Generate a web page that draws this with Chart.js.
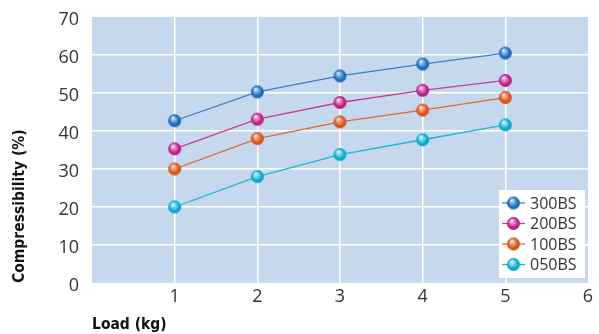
<!DOCTYPE html>
<html>
<head>
<meta charset="utf-8">
<script src="https://cdn.jsdelivr.net/npm/chart.js@4.4.0/dist/chart.umd.min.js"></script>
<style>
  html, body { margin: 0; padding: 0; background: #fff; }
  #wrap { width: 599px; height: 334px; position: relative; }
</style>
</head>
<body>
<div id="wrap"><canvas id="chart" width="599" height="334"></canvas></div>
<script>
const loads = [1, 2, 3, 4, 5];
const s300 = [42.7, 50.3, 54.5, 57.6, 60.5];
const s200 = [35.3, 43.1, 47.5, 50.7, 53.3];
const s100 = [30.0, 38.0, 42.4, 45.5, 48.8];
const s050 = [20.0, 28.0, 33.8, 37.7, 41.6];
const seriesNames = ["300BS", "200BS", "100BS", "050BS"];
const yTicks = [0, 10, 20, 30, 40, 50, 60, 70];
const xTicks = [0, 1, 2, 3, 4, 5, 6];

const colors = {
  "300BS": { line: "#3b7dc2", base: "#1f68b5", light: "#7fb3e6" },
  "200BS": { line: "#c93a93", base: "#b81e86", light: "#e98cc6" },
  "100BS": { line: "#e2672e", base: "#d9511b", light: "#f4a27a" },
  "050BS": { line: "#1cb5d3", base: "#06a9cc", light: "#7fdcef" },
};

// shaded ball marker
function ball(c, r) {
  const size = r * 2 + 2;
  const cv = document.createElement("canvas");
  cv.width = size;
  cv.height = size;
  const g = cv.getContext("2d");
  const cx = size / 2, cy = size / 2;
  const grad = g.createRadialGradient(cx - r * 0.3, cy - r * 0.45, r * 0.05, cx, cy, r);
  grad.addColorStop(0, "#eef6ff");
  grad.addColorStop(0.3, c.light);
  grad.addColorStop(0.75, c.base);
  grad.addColorStop(1, c.base);
  g.fillStyle = grad;
  g.beginPath();
  g.arc(cx, cy, r, 0, Math.PI * 2);
  g.fill();
  return cv;
}

function toPoints(arr) {
  return loads.map((x, i) => ({ x: x, y: arr[i] }));
}

const datasets = [s300, s200, s100, s050].map((arr, i) => {
  const c = colors[seriesNames[i]];
  return {
    label: seriesNames[i],
    data: toPoints(arr),
    borderColor: c.line,
    borderWidth: 1.3,
    pointStyle: ball(c, 6.5),
    pointRadius: 6.5,
    pointHoverRadius: 6.5,
    tension: 0,
  };
});

const plotBg = {
  id: "plotBg",
  beforeDraw(chart) {
    const { ctx, chartArea: a } = chart;
    ctx.save();
    ctx.fillStyle = "#c6d8ee";
    ctx.fillRect(a.left, a.top, a.right - a.left, a.bottom - a.top);
    ctx.restore();
  },
};

const boxLegend = {
  id: "boxLegend",
  afterDraw(chart) {
    const { ctx } = chart;
    const left = 499, top = 190, w = 86, h = 88;
    ctx.save();
    ctx.fillStyle = "#ffffff";
    ctx.fillRect(left, top, w, h);
    ctx.font = "16px 'Open Sans', Lato, sans-serif";
    ctx.textBaseline = "middle";
    chart.data.datasets.forEach((ds, i) => {
      const y = top + 13 + i * 20.5;
      ctx.strokeStyle = ds.borderColor;
      ctx.lineWidth = 1.3;
      ctx.beginPath();
      ctx.moveTo(left + 3, y);
      ctx.lineTo(left + 26, y);
      ctx.stroke();
      const img = ds.pointStyle;
      ctx.drawImage(img, left + 14.5 - img.width / 2, y - img.height / 2);
      ctx.fillStyle = "#333333";
      ctx.fillText(ds.label, left + 31, y + 1);
    });
    ctx.restore();
  },
};

const tickFont = { family: "'Open Sans', Lato, sans-serif", size: 18 };
const titleFont = { family: "'Liberation Sans Narrow', 'DejaVu Sans Condensed', sans-serif", size: 15.5, weight: "bold" };

new Chart(document.getElementById("chart"), {
  type: "line",
  data: { datasets: datasets },
  options: {
    responsive: false,
    animation: false,
    layout: { padding: { top: 17, right: 11, left: 0, bottom: 0 } },
    plugins: {
      legend: { display: false },
      tooltip: { enabled: false },
    },
    scales: {
      x: {
        type: "linear",
        min: xTicks[0],
        max: xTicks[xTicks.length - 1],
        afterBuildTicks: (s) => { s.ticks = xTicks.map((v) => ({ value: v })); },
        afterFit: (s) => { s.height = 51; s.paddingLeft = 0; s.paddingRight = 0; },
        border: { display: false },
        grid: {
          color: (c) => (c.tick && (c.tick.value === 0 || c.tick.value === 6) ? "rgba(0,0,0,0)" : "#ffffff"),
          lineWidth: 1.5,
          drawTicks: false,
        },
        ticks: {
          color: "#333333",
          font: tickFont,
          padding: 3,
          maxRotation: 0,
          callback: (v) => (v === 0 ? "" : v),
        },
        title: {
          display: true,
          text: "Load (kg)",
          align: "start",
          color: "#111111",
          font: titleFont,
          padding: { top: 4, bottom: 0 },
        },
      },
      y: {
        min: yTicks[0],
        max: yTicks[yTicks.length - 1],
        afterBuildTicks: (s) => { s.ticks = yTicks.map((v) => ({ value: v })); },
        afterFit: (s) => { s.width = 92; s.paddingTop = 0; s.paddingBottom = 0; },
        border: { display: false },
        grid: {
          color: (c) => (c.tick && (c.tick.value === 0 || c.tick.value === 70) ? "rgba(0,0,0,0)" : "#ffffff"),
          lineWidth: 1.5,
          drawTicks: false,
        },
        ticks: {
          color: "#333333",
          font: tickFont,
          padding: 13,
          labelOffset: 3,
        },
        title: {
          display: true,
          text: "Compressibility (%)",
          align: "start",
          color: "#111111",
          font: titleFont,
          padding: { top: 11, bottom: 0 },
        },
      },
    },
  },
  plugins: [plotBg, boxLegend],
});
</script>
</body>
</html>
